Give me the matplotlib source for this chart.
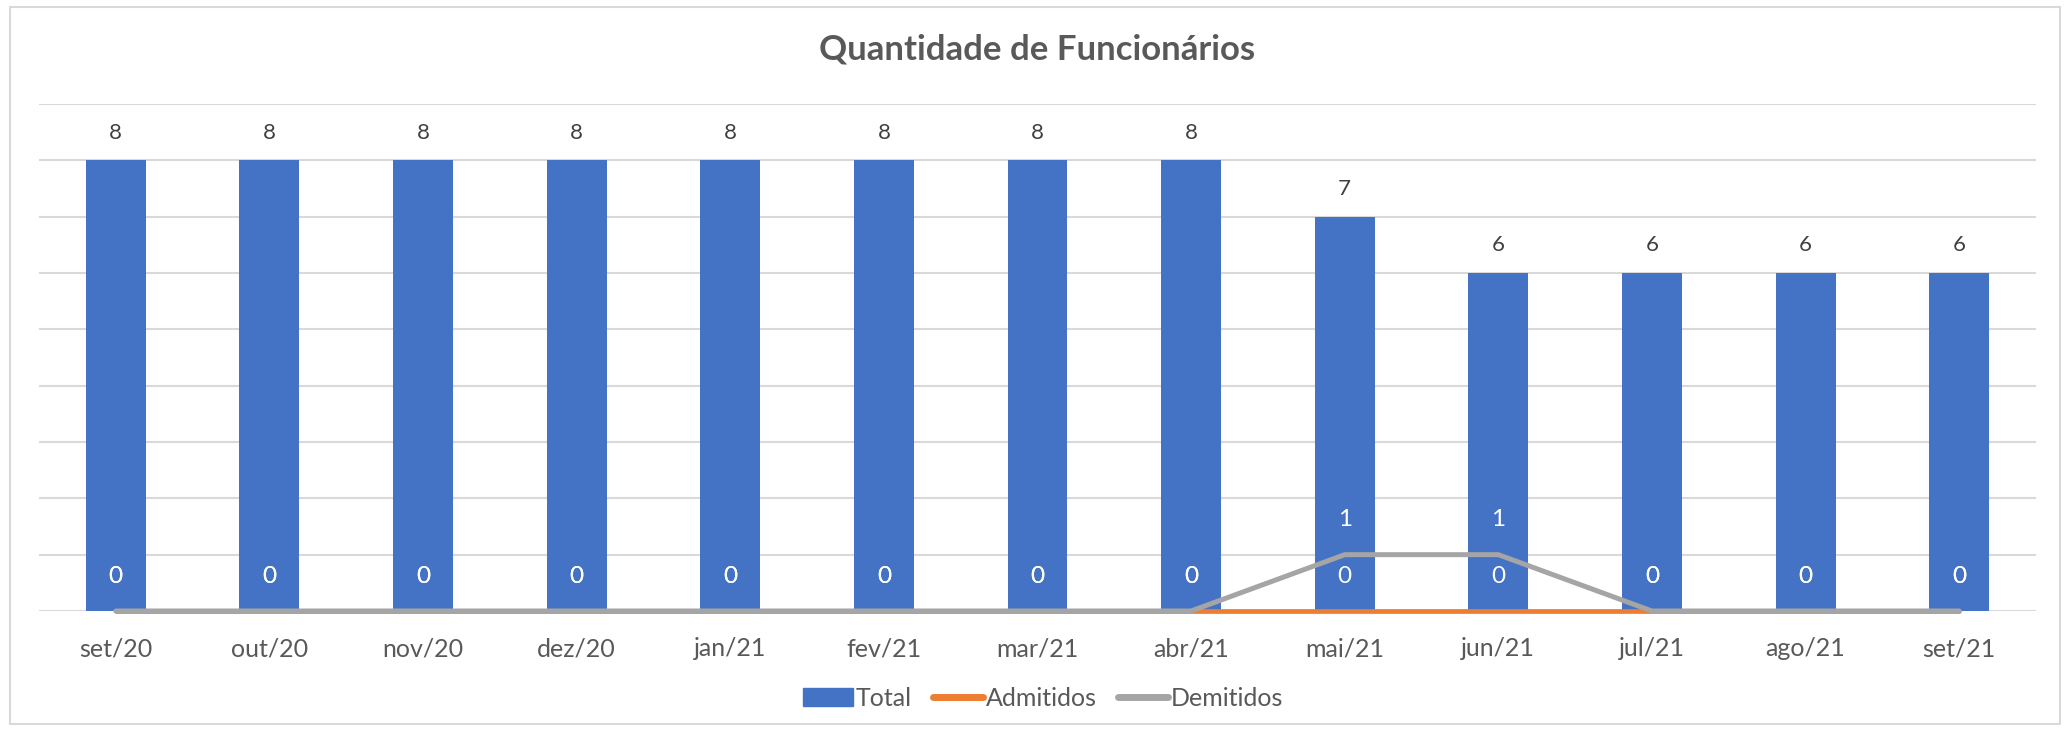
import matplotlib
matplotlib.use("Agg")
import matplotlib.pyplot as plt
from matplotlib.patches import Rectangle, Patch
from matplotlib.lines import Line2D
import numpy as np

plt.rcParams['font.family'] = ['Lato', 'DejaVu Sans']

# data
meses = ['set/20', 'out/20', 'nov/20', 'dez/20', 'jan/21', 'fev/21', 'mar/21',
         'abr/21', 'mai/21', 'jun/21', 'jul/21', 'ago/21', 'set/21']
total = [8, 8, 8, 8, 8, 8, 8, 8, 7, 6, 6, 6, 6]
admitidos = [0, 0, 0, 0, 0, 0, 0, 0, 0, 0, 0, 0, 0]
demitidos = [0, 0, 0, 0, 0, 0, 0, 0, 1, 1, 0, 0, 0]

azul = '#4472C4'
laranja = '#ED7D31'
cinza = '#A5A5A5'
texto = '#595959'
grade = '#D9D9D9'

W, H = 2071, 731
fig = plt.figure(figsize=(W / 100, H / 100), dpi=100)
ax = fig.add_axes([39 / W, 1 - 611 / H, (2036 - 39) / W, (611 - 104) / H])

x = np.arange(len(meses))
ax.bar(x, total, width=0.39, color=azul, zorder=2)
ax.plot(x, admitidos, color=laranja, lw=3.4, solid_capstyle='round', zorder=3, clip_on=False)
ax.plot(x, demitidos, color=cinza, lw=3.6, solid_capstyle='round', zorder=4, clip_on=False)

# rotulos
for i, v in enumerate(total):
    ax.annotate(str(v), (i, v), xytext=(0, 20), textcoords='offset points',
                ha='center', va='center', fontsize=16, color='#404040')
for serie in (admitidos, demitidos):
    for i, v in enumerate(serie):
        ax.annotate(str(v), (i, v), xytext=(0, 25), textcoords='offset points',
                    ha='center', va='center', fontsize=17.5, color='white', zorder=5)

ax.set_xlim(-0.5, len(meses) - 0.5)
ax.set_ylim(0, 9)
ax.set_yticks(range(0, 10))
ax.yaxis.grid(True, color=grade, lw=1.5, zorder=0)
ax.set_yticklabels([])
ax.tick_params(axis='y', length=0)
ax.set_xticks(x)
ax.set_xticklabels(meses, fontsize=18, color=texto)
ax.tick_params(axis='x', length=0, pad=19)
for s in ax.spines.values():
    s.set_visible(False)
ax.set_axisbelow(True)

fig.text(1037 / W, 1 - 50 / H, 'Quantidade de Funcionários', ha='center', va='center',
         fontsize=25, fontweight='bold', color=texto)

handles = [Patch(color=azul, label='Total'),
           Line2D([], [], color=laranja, lw=5, solid_capstyle='round', label='Admitidos'),
           Line2D([], [], color=cinza, lw=5, solid_capstyle='round', label='Demitidos')]
fig.legend(handles=handles, loc='center', bbox_to_anchor=(1043 / W, 1 - 698 / H), ncol=3,
           frameon=False, fontsize=18, labelcolor=texto, handlelength=2.0,
           handletextpad=0.12, columnspacing=0.85)

fig.patches.append(Rectangle((10 / W, 7 / H), (2060 - 10) / W, (724 - 7) / H,
                             transform=fig.transFigure, fill=False, edgecolor=grade, lw=1.5))

fig.savefig('out.png', dpi=100)
